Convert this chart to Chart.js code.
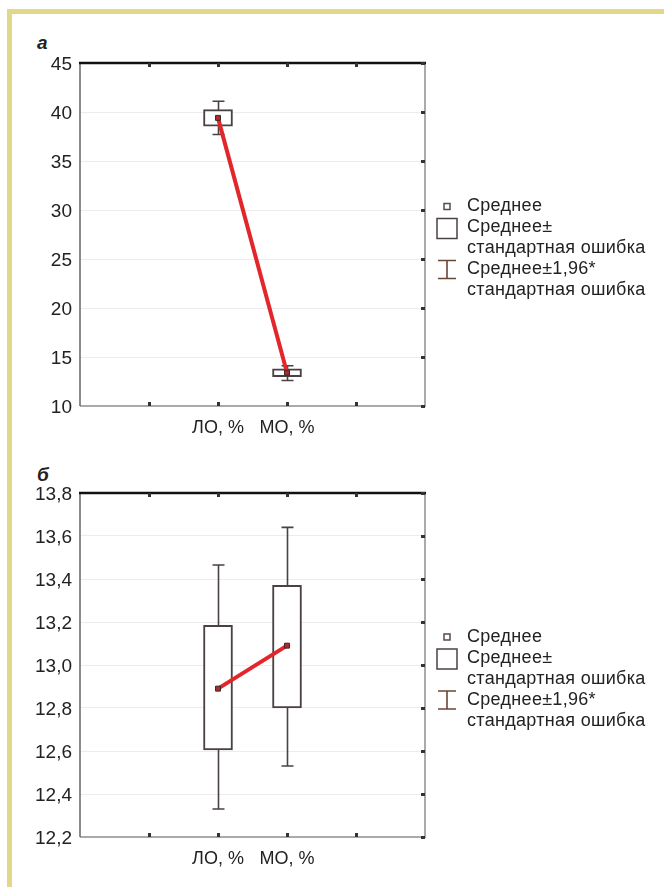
<!DOCTYPE html>
<html>
<head>
<meta charset="utf-8">
<script src="https://cdn.jsdelivr.net/npm/chart.js@4/dist/chart.umd.min.js"></script>
<style>
  body { margin: 0; background: #fff; }
  #page { position: relative; width: 664px; height: 887px; overflow: hidden; background: #fff; }
  .bar-top { position: absolute; left: 7px; top: 9px; width: 657px; height: 5px; background: #e3d88a; }
  .bar-left { position: absolute; left: 7px; top: 9px; width: 5px; height: 878px; background: #e3d88a; }
  .panel { position: absolute; left: 37px; font: italic bold 19px "Liberation Sans", sans-serif; color: #222; }
  canvas { position: absolute; left: 0; }
</style>
</head>
<body>
<div id="page">
  <div class="bar-top"></div>
  <div class="bar-left"></div>
  <span class="panel" style="top:32px">а</span>
  <span class="panel" style="top:464px">б</span>
  <canvas id="chartA" width="664" height="450" style="top:0px"></canvas>
  <canvas id="chartB" width="664" height="447" style="top:440px"></canvas>
</div>
<script>
// categories and their place on the x axis (0..5, like the original)
const categories = ['ЛО, %', 'МО, %'];
const categoryPos = [2, 3];

// panel а
const meanA = [39.4, 13.4];
const seLowA = [38.55, 13.0];
const seHighA = [40.25, 13.8];
const ciLowA = [37.7, 12.6];
const ciHighA = [41.1, 14.1];
const yTicksA = [10, 15, 20, 25, 30, 35, 40, 45];

// panel б
const meanB = [12.89, 13.09];
const seLowB = [12.605, 12.80];
const seHighB = [13.185, 13.37];
const ciLowB = [12.33, 12.53];
const ciHighB = [13.465, 13.64];
const yTicksB = [12.2, 12.4, 12.6, 12.8, 13.0, 13.2, 13.4, 13.6, 13.8];

const legendLines = ['Среднее', 'Среднее±', 'стандартная ошибка', 'Среднее±1,96*', 'стандартная ошибка'];

const FONT = '"Liberation Sans", Arial, sans-serif';
const BOX_COLOR = '#4a4242';

function boxPlugin(ciLow, ciHigh) {
  return {
    id: 'boxExtras',
    beforeDatasetsDraw(chart) {
      const c = chart.ctx, x = chart.scales.x, y = chart.scales.y;
      c.save();
      c.strokeStyle = BOX_COLOR;
      c.lineWidth = 1.6;
      categoryPos.forEach((p, i) => {
        const px = Math.round(x.getPixelForValue(p)) + 0.5;
        const top = y.getPixelForValue(ciHigh[i]);
        const bot = y.getPixelForValue(ciLow[i]);
        c.beginPath();
        c.moveTo(px, top); c.lineTo(px, bot);
        c.moveTo(px - 6, top); c.lineTo(px + 6, top);
        c.moveTo(px - 6, bot); c.lineTo(px + 6, bot);
        c.stroke();
      });
      c.restore();
    },
    afterDraw(chart) {
      const c = chart.ctx, a = chart.chartArea, x = chart.scales.x, y = chart.scales.y;
      c.save();
      // frame
      c.lineWidth = 2;
      c.strokeStyle = '#aaa';
      c.beginPath();
      c.moveTo(a.right, a.top); c.lineTo(a.right, a.bottom); c.lineTo(a.left, a.bottom);
      c.stroke();
      c.strokeStyle = '#666';
      c.lineWidth = 1.5;
      c.beginPath();
      c.moveTo(a.left, a.bottom); c.lineTo(a.left, a.top);
      c.stroke();
      c.strokeStyle = '#111';
      c.lineWidth = 2.5;
      c.beginPath();
      c.moveTo(a.left - 1, a.top); c.lineTo(a.right + 1, a.top);
      c.stroke();
      // small tick marks
      c.fillStyle = '#333';
      [1, 2, 3, 4].forEach(v => {
        const px = Math.round(x.getPixelForValue(v));
        c.fillRect(px - 1, a.bottom - 4, 3, 4);
        c.fillRect(px - 1, a.top, 3, 4);
      });
      y.ticks.forEach(t => {
        const py = Math.round(y.getPixelForValue(t.value));
        c.fillRect(a.right - 4, py - 1, 4, 3);
      });
      // legend
      const lx = a.right + 22, tx = a.right + 42;
      const ly = (a.top + a.bottom) / 2 - 28;
      c.font = '18px ' + FONT;
      c.letterSpacing = '0.3px';
      c.fillStyle = '#222';
      c.textBaseline = 'middle';
      legendLines.forEach((s, i) => c.fillText(s, tx, ly + i * 21));
      c.strokeStyle = '#5a4a48';
      c.lineWidth = 1.5;
      c.strokeRect(lx - 3, ly - 3, 6, 6);
      c.strokeStyle = BOX_COLOR;
      c.strokeRect(lx - 10, ly + 21 - 9, 20, 20);
      c.strokeStyle = '#6b4535';
      c.lineWidth = 1.6;
      const wy = ly + 63;
      c.beginPath();
      c.moveTo(lx, wy - 9); c.lineTo(lx, wy + 9);
      c.moveTo(lx - 9, wy - 9); c.lineTo(lx + 9, wy - 9);
      c.moveTo(lx - 9, wy + 9); c.lineTo(lx + 9, wy + 9);
      c.stroke();
      c.restore();
    }
  };
}

function makeChart(id, mean, seLow, seHigh, ciLow, ciHigh, yTicks, fmt, padTop, xHeight) {
  const step = +(yTicks[1] - yTicks[0]).toFixed(2);
  return new Chart(document.getElementById(id).getContext('2d'), {
    type: 'bar',
    data: {
      datasets: [{
        type: 'line',
        data: categoryPos.map((p, i) => ({x: p, y: mean[i]})),
        borderColor: '#e3262b',
        borderWidth: 4,
        pointStyle: 'rect',
        pointRadius: 3.5,
        pointBackgroundColor: '#b02a2a',
        pointBorderColor: '#3a2a2a',
        pointBorderWidth: 1,
        order: 0
      }, {
        type: 'bar',
        data: categoryPos.map((p, i) => ({x: p, y: [seLow[i], seHigh[i]]})),
        backgroundColor: '#fff',
        borderColor: BOX_COLOR,
        borderWidth: 2,
        borderSkipped: false,
        barThickness: 29,
        order: 1
      }]
    },
    options: {
      responsive: false,
      animation: false,
      layout: { padding: { left: 20, right: 239, top: padTop, bottom: 0 } },
      plugins: { legend: { display: false }, tooltip: { enabled: false } },
      scales: {
        x: {
          type: 'linear', min: 0, max: 5, offset: false,
          grid: { display: false, offset: false },
          border: { display: false },
          ticks: {
            stepSize: 1, autoSkip: false, maxRotation: 0, padding: 3,
            color: '#222', font: { family: FONT, size: 18 },
            callback: v => { const k = categoryPos.indexOf(v); return k >= 0 ? categories[k] : ''; }
          },
          afterFit: s => { s.height = xHeight; }
        },
        y: {
          min: yTicks[0], max: yTicks[yTicks.length - 1],
          grid: { color: '#ececec', drawTicks: false },
          border: { display: false },
          ticks: {
            stepSize: step, padding: 8, color: '#222', labelOffset: 2,
            font: { family: FONT, size: 19 },
            callback: fmt
          },
          afterFit: s => { s.width = 60; }
        }
      }
    },
    plugins: [boxPlugin(ciLow, ciHigh)]
  });
}

makeChart('chartA', meanA, seLowA, seHighA, ciLowA, ciHighA, yTicksA, v => String(Math.round(v)), 63, 44);
makeChart('chartB', meanB, seLowB, seHighB, ciLowB, ciHighB, yTicksB, v => v.toFixed(1).replace('.', ','), 53, 50);
</script>
</body>
</html>
